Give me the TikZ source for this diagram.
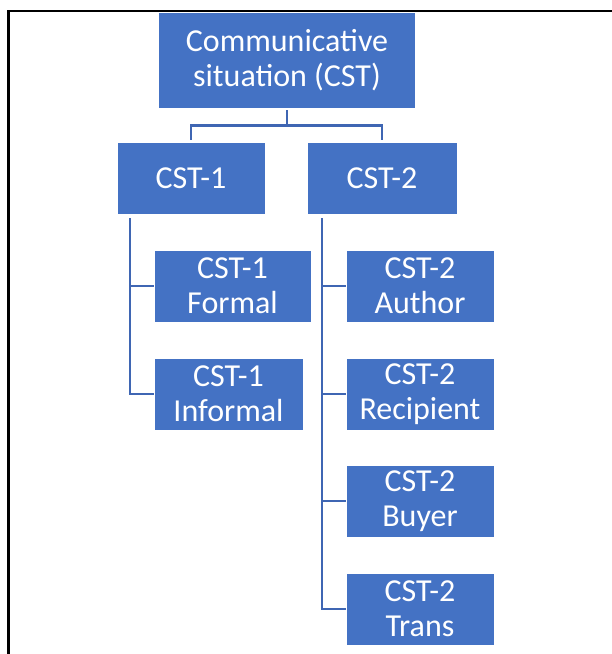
\documentclass[tikz,border=0pt]{standalone}
\usepackage{fontspec}
\setmainfont{Carlito}
\usepackage{tikz}
\usepackage{xcolor}
\definecolor{cstblue}{HTML}{4472C4}
\definecolor{cstline}{HTML}{3F66B3}
\tikzset{
    cst-box/.style = {draw=white, fill=cstblue, text=white, line width=0.6pt, rectangle, inner sep=0pt, align=center, minimum height=72pt, font=\fontsize{32}{35}\selectfont},
    cst-line/.style = {draw=cstline, line width=2.4pt, shorten <=2pt},
}

\begin{document}
\begin{tikzpicture}[x=1pt, y=-1pt]
\useasboundingbox (0,0) rectangle (612,654);
\draw[line width=2.5pt] (8.5,654) -- (8.5,11) -- (612,11);
% top and first level
\node [cst-box, minimum width=257pt, minimum height=96pt] (cst) at (287,60) {Communicative\\situation (CST)};
\node [cst-box, minimum width=148pt] (cst1) at (191,178) {CST-1};
\node [cst-box, minimum width=150pt] (cst2) at (382,178) {CST-2};
% children
\node [cst-box, minimum width=157pt] (formal) at (232.5,286) {CST-1\\Formal};
\node [cst-box, minimum width=149pt] (informal) at (228.5,394) {CST-1\\Informal};
\node [cst-box, minimum width=148pt] (author) at (420,286) {CST-2\\Author};
\node [cst-box, minimum width=148pt] (recipient) at (420,394) {CST-2\\Recipient};
\node [cst-box, minimum width=148pt] (buyer) at (420,501) {CST-2\\Buyer};
\node [cst-box, minimum width=148pt] (trans) at (420,609) {CST-2\\Trans};
% connectors
\draw[cst-line, shorten >=2pt] (cst.south) -- ++(0,17) -| (cst1.north);
\draw[cst-line, shorten >=2pt] (cst.south) -- ++(0,17) -| (cst2.north);
\draw[cst-line] ([xshift=13pt, yshift=-2pt]cst1.south west) |- (formal.west);
\draw[cst-line] ([xshift=13pt, yshift=-2pt]cst1.south west) |- (informal.west);
\foreach \kid in {author, recipient, buyer, trans}
    \draw[cst-line] ([xshift=15pt, yshift=-2pt]cst2.south west) |- (\kid.west);
\end{tikzpicture}
\end{document}
